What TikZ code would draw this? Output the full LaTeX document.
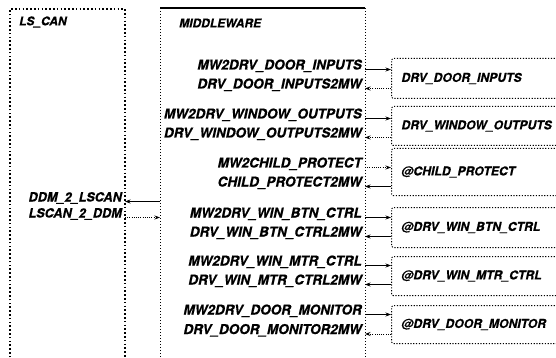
\documentclass[tikz,border=0pt]{standalone}
\usepackage{fontspec}
\setsansfont[FakeBold=0.6]{TeX Gyre Heros}
\usetikzlibrary{arrows.meta}
\tikzset{
  % a signal name, set against its arrow
  sg/.style    = {font=\sffamily\bfseries\itshape\fontsize{13.5}{15}\selectfont,
                  inner sep=0pt, anchor=base east},
  % a column title
  ttl/.style   = {font=\sffamily\bfseries\itshape\fontsize{12}{14}\selectfont,
                  inner sep=0pt, anchor=west},
  % a driver block on the right
  drv/.style   = {draw, dash pattern=on 1.2pt off 1.6pt, line width=1pt,
                  rounded corners=1.5pt, anchor=north west,
                  minimum width=190pt, minimum height=#1,
                  text width=170pt, inner xsep=7pt, align=left,
                  font=\sffamily\bfseries\itshape\fontsize{12.2}{14}\selectfont},
  % the borders of the two columns
  lscol/.style = {dash pattern=on 1.6pt off 2.2pt, line width=1.3pt},
  mwcol/.style = {dash pattern=on 1.2pt off 1.8pt, line width=1pt},
  % a signal, plain or dotted
  sig/.style   = {-{Stealth[length=5.5pt,width=4pt]}, line width=0.8pt},
  sigd/.style  = {sig, dash pattern=on 1pt off 1.2pt},
}

\begin{document}
\begin{tikzpicture}[x=1pt, y=-1pt]
  \useasboundingbox (0,0) rectangle (556,358);
  \clip (0,0) rectangle (556,358);
  % the two columns
  \coordinate (lsR) at (125,9);
  \coordinate (mwL) at (160,8);
  \coordinate (mwR) at (365,8);
  \draw[lscol] (10,365) -- (10,9) -- (lsR) -- (125,365);
  \draw[mwcol] (mwL) -- (160,365);
  \draw[mwcol] (mwR) -- (365,365);
  \draw[line width=2.4pt] (mwL) -- (mwR);
  \node[ttl] (lscan) at (19,22) {LS\_CAN};
  \node[ttl] (mware) at (179,23) {MIDDLEWARE};
  % driver blocks
  \node[drv=40pt] (b1) at (391,58)  {DRV\_DOOR\_INPUTS};
  \node[drv=39pt] (b2) at (391,106) {DRV\_WINDOW\_OUTPUTS};
  \node[drv=47pt] (b3) at (391,148) {@CHILD\_PROTECT};
  \node[drv=40pt] (b4) at (391,207) {@DRV\_WIN\_BTN\_CTRL};
  \node[drv=39pt] (b5) at (391,256) {@DRV\_WIN\_MTR\_CTRL};
  \node[drv=38pt] (b6) at (391,305) {@DRV\_DOOR\_MONITOR};
  % middleware signals
  \node[sg] (o1) at (362,69.5)  {MW2DRV\_DOOR\_INPUTS};
  \node[sg] (i1) at (362,88.5)  {DRV\_DOOR\_INPUTS2MW};
  \node[sg] (o2) at (362,118.5) {MW2DRV\_WINDOW\_OUTPUTS};
  \node[sg] (i2) at (362,137.5) {DRV\_WINDOW\_OUTPUTS2MW};
  \node[sg] (o3) at (362,167.5) {MW2CHILD\_PROTECT};
  \node[sg] (i3) at (362,186.5) {CHILD\_PROTECT2MW};
  \node[sg] (o4) at (362,217.5) {MW2DRV\_WIN\_BTN\_CTRL};
  \node[sg] (i4) at (362,236.5) {DRV\_WIN\_BTN\_CTRL2MW};
  \node[sg] (o5) at (362,265.5) {MW2DRV\_WIN\_MTR\_CTRL};
  \node[sg] (i5) at (362,284.5) {DRV\_WIN\_MTR\_CTRL2MW};
  \node[sg] (o6) at (362,314.5) {MW2DRV\_DOOR\_MONITOR};
  \node[sg] (i6) at (362,334)   {DRV\_DOOR\_MONITOR2MW};
  \draw[sig]  (o1.base -| mwR) -- (o1.base -| b1.west);
  \draw[sigd] (i1.base -| b1.west) -- (i1.base -| mwR);
  \draw[sig]  (o2.base -| mwR) -- (o2.base -| b2.west);
  \draw[sigd] (i2.base -| b2.west) -- (i2.base -| mwR);
  \draw[sigd] (o3.base -| mwR) -- (o3.base -| b3.west);
  \draw[sig]  (i3.base -| b3.west) -- (i3.base -| mwR);
  \draw[sig]  (o4.base -| mwR) -- (o4.base -| b4.west);
  \draw[sig]  (i4.base -| b4.west) -- (i4.base -| mwR);
  \draw[sig]  (o5.base -| mwR) -- (o5.base -| b5.west);
  \draw[sig]  (i5.base -| b5.west) -- (i5.base -| mwR);
  \draw[sig]  (o6.base -| mwR) -- (o6.base -| b6.west);
  \draw[sigd] (i6.base -| b6.west) -- (i6.base -| mwR);
  % LS_CAN signals
  \node[sg, font=\sffamily\bfseries\itshape\fontsize{12.7}{14}\selectfont]
        (dl) at (122,201.5) {DDM\_2\_LSCAN};
  \node[sg, font=\sffamily\bfseries\itshape\fontsize{12.7}{14}\selectfont]
        (ld) at (122,217.5) {LSCAN\_2\_DDM};
  \draw[sig]  (dl.base -| mwL) -- (dl.base -| lsR);
  \draw[sigd] (ld.base -| lsR) -- (ld.base -| mwL);
\end{tikzpicture}
\end{document}
